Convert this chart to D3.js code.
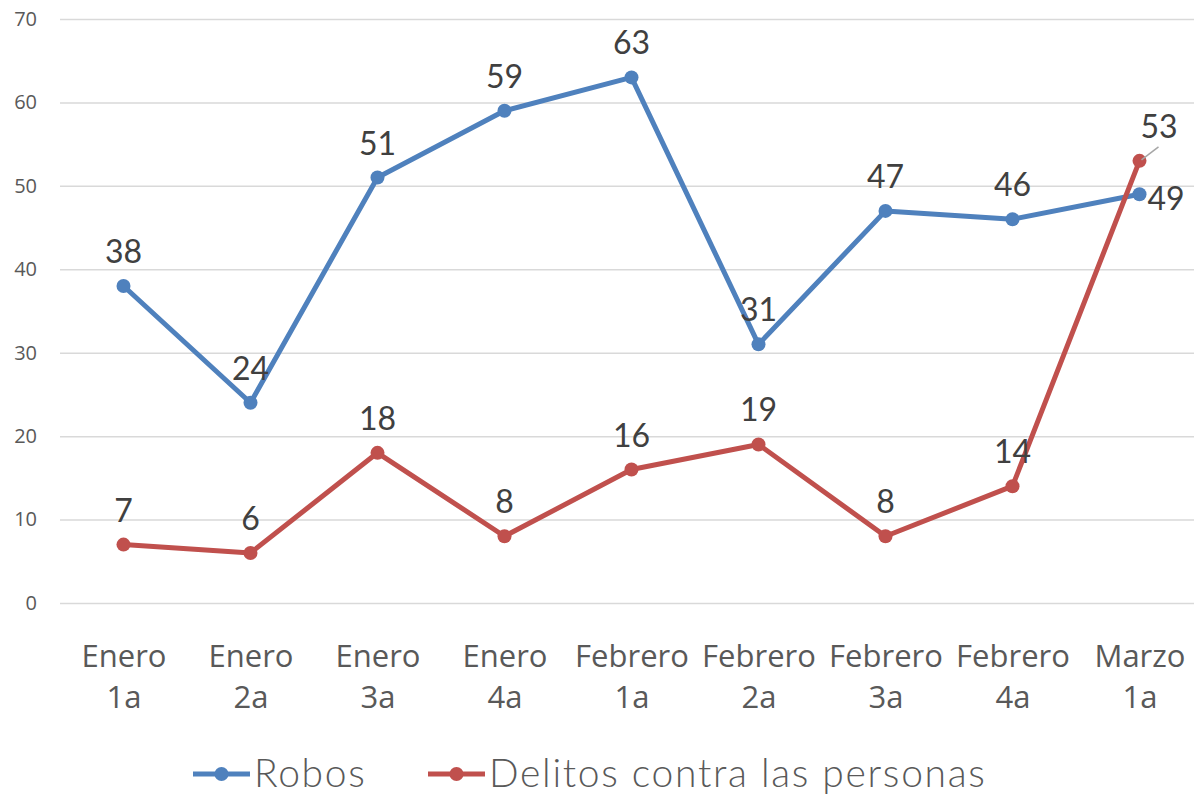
<!DOCTYPE html>
<html>
<head>
<meta charset="utf-8">
<script src="https://cdn.jsdelivr.net/npm/d3@7"></script>
<style>
  body { margin: 0; background: #fff; }
  svg { display: block; }
</style>
</head>
<body>
<div id="chart"></div>
<script>
var categories = ["Enero 1a", "Enero 2a", "Enero 3a", "Enero 4a", "Febrero 1a",
                  "Febrero 2a", "Febrero 3a", "Febrero 4a", "Marzo 1a"];
var robos = [38, 24, 51, 59, 63, 31, 47, 46, 49];
var delitos = [7, 6, 18, 8, 16, 19, 8, 14, 53];
var seriesNames = ["Robos", "Delitos contra las personas"];
var yTicks = [0, 10, 20, 30, 40, 50, 60, 70];

var totalWidth = 1194,
    totalHeight = 797;

var colors = ["#4f81bd", "#c0504d"];

var xScale = d3.scalePoint()
    .domain(categories)
    .range([60, 1203])
    .padding(0.5);

var yScale = d3.scaleLinear()
    .domain([0, 70])
    .range([603, 19]);

var svg = d3.select("#chart").append("svg")
    .attr("width", totalWidth)
    .attr("height", totalHeight);

// gridlines + y labels
var yAxis = d3.axisLeft(yScale)
    .tickValues(yTicks)
    .tickSize(-(1203 - 60))
    .tickPadding(23);

var gy = svg.append("g")
    .attr("transform", "translate(60,0)")
    .call(yAxis);
gy.select(".domain").remove();
gy.selectAll(".tick line")
    .attr("stroke", "#d9d9d9")
    .attr("stroke-width", 1.5);
gy.selectAll(".tick text")
    .attr("fill", "#595959")
    .style("font-family", "'Open Sans', sans-serif")
    .style("font-size", "20px");

// x labels, two lines each
var xAxis = d3.axisBottom(xScale).tickSize(0).tickFormat("");
var gx = svg.append("g")
    .attr("transform", "translate(0,603)")
    .call(xAxis);
gx.select(".domain").remove();
gx.selectAll(".tick").each(function(d) {
    var parts = d.split(" ");
    var t = d3.select(this).append("text")
        .attr("text-anchor", "middle")
        .attr("fill", "#595959")
        .style("font-family", "'Open Sans', sans-serif")
        .style("font-size", "31px");
    t.append("tspan").attr("x", 0).attr("y", 64).text(parts[0]);
    t.append("tspan").attr("x", 0).attr("y", 105).text(parts[1]);
});

var allSeries = [robos, delitos];

var line = d3.line()
    .x(function(d, i) { return xScale(categories[i]); })
    .y(function(d) { return yScale(d); });

allSeries.forEach(function(values, s) {
    var g = svg.append("g");
    g.append("path")
        .datum(values)
        .attr("fill", "none")
        .attr("stroke", colors[s])
        .attr("stroke-width", 5)
        .attr("stroke-linejoin", "round")
        .attr("d", line);
    g.selectAll("circle")
        .data(values)
        .enter().append("circle")
        .attr("cx", function(d, i) { return xScale(categories[i]); })
        .attr("cy", function(d) { return yScale(d); })
        .attr("r", 7)
        .attr("fill", colors[s]);
});

// data labels
var last = categories.length - 1;
allSeries.forEach(function(values, s) {
    values.forEach(function(v, i) {
        var x = xScale(categories[i]),
            y = yScale(v);
        var lx = x, ly = y - 23, anchor = "middle";
        if (s === 0 && i === last) {
            lx = x + 8; ly = y + 16; anchor = "start";
        }
        if (s === 1 && i === last) {
            lx = x + 1; ly = y - 23; anchor = "start";
            svg.append("line")
                .attr("x1", x + 2).attr("y1", y - 1)
                .attr("x2", x + 19).attr("y2", y - 14)
                .attr("stroke", "#a6a6a6")
                .attr("stroke-width", 1.5);
        }
        svg.append("text")
            .attr("x", lx)
            .attr("y", ly)
            .attr("text-anchor", anchor)
            .attr("fill", "#404040")
            .style("font-family", "Lato, sans-serif")
            .style("font-size", "32px")
            .text(v);
    });
});

// legend
var legendX = [193, 428];
seriesNames.forEach(function(name, s) {
    var g = svg.append("g").attr("transform", "translate(" + legendX[s] + ",774)");
    g.append("line")
        .attr("x1", 0).attr("x2", 57)
        .attr("y1", 0).attr("y2", 0)
        .attr("stroke", colors[s])
        .attr("stroke-width", 5);
    g.append("circle")
        .attr("cx", 28.5).attr("cy", 0).attr("r", 7)
        .attr("fill", colors[s]);
    g.append("text")
        .attr("x", 61)
        .attr("y", 13)
        .attr("fill", "#595959")
        .style("font-family", "Lato, sans-serif")
        .style("font-weight", 300)
        .style("font-size", "39px")
        .style("letter-spacing", "1.7px")
        .text(name);
});
</script>
</body>
</html>
